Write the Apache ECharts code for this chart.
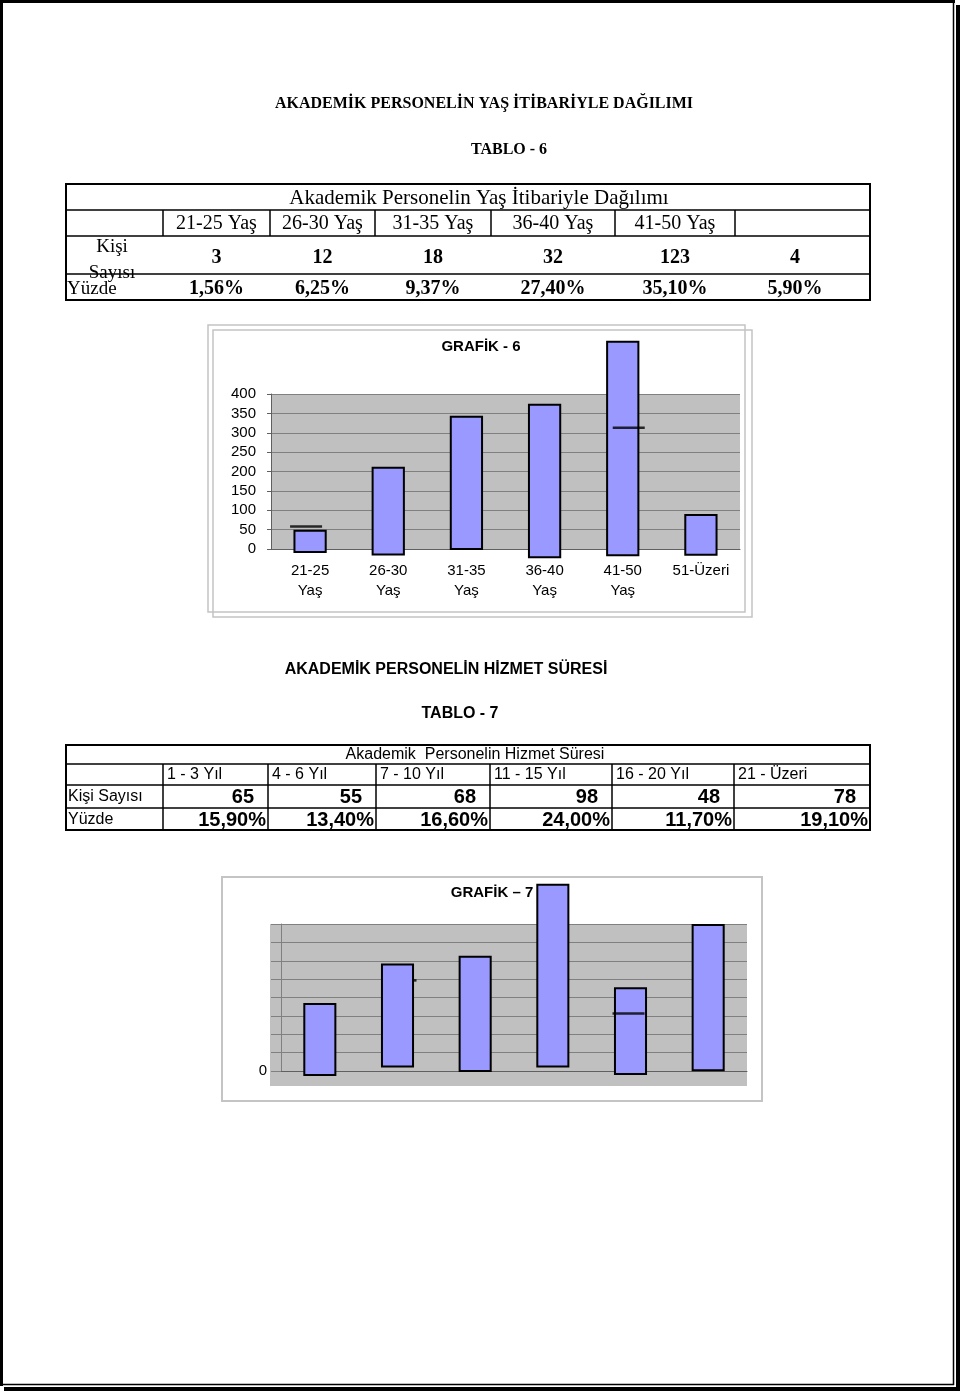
<!DOCTYPE html>
<html><head><meta charset="utf-8">
<script src="https://cdn.jsdelivr.net/npm/echarts@6/dist/echarts.min.js"></script>
<style>html,body{margin:0;padding:0;background:#fff}#c{width:960px;height:1391px}</style>
</head><body><div id="c"></div>
<script>
// ---------- Page texts ----------
const pageTitle6 = 'AKADEMİK PERSONELİN YAŞ İTİBARİYLE DAĞILIMI';
const tableLabel6 = 'TABLO - 6';
const pageTitle7 = 'AKADEMİK PERSONELİN HİZMET SÜRESİ';
const tableLabel7 = 'TABLO - 7';

// ---------- Table 6 ----------
const t6Title = 'Akademik Personelin Yaş İtibariyle Dağılımı';
const t6Headers = ['21-25 Yaş', '26-30 Yaş', '31-35 Yaş', '36-40 Yaş', '41-50 Yaş', ''];
const t6Counts = ['3', '12', '18', '32', '123', '4'];
const t6Percents = ['1,56%', '6,25%', '9,37%', '27,40%', '35,10%', '5,90%'];

// ---------- Chart 6 (GRAFİK - 6) ----------
const g6Title = 'GRAFİK - 6';
const g6Categories = ['21-25\nYaş', '26-30\nYaş', '31-35\nYaş', '36-40\nYaş', '41-50\nYaş', '51-Üzeri'];
const g6BarTop = [47, 210, 341, 372, 535, 88];
const g6BarBase = [-8, -14, 0, -21, -16, -15];
const g6MarkIndex = [0, 4];
const g6MarkValue = [58, 313];
const g6Ticks = [0, 50, 100, 150, 200, 250, 300, 350, 400];

// ---------- Table 7 ----------
const t7Title = 'Akademik  Personelin Hizmet Süresi';
const t7Headers = ['1 - 3 Yıl', '4 - 6 Yıl', '7 - 10 Yıl', '11 - 15 Yıl', '16 - 20 Yıl', '21 - Üzeri'];
const t7RowLabels = ['Kişi Sayısı', 'Yüzde'];
const t7Counts = ['65', '55', '68', '98', '48', '78'];
const t7Percents = ['15,90%', '13,40%', '16,60%', '24,00%', '11,70%', '19,10%'];

// ---------- Chart 7 (GRAFİK – 7) ----------
const g7Title = 'GRAFİK – 7';
const g7Categories = ['1 - 3 Yıl', '4 - 6 Yıl', '7 - 10 Yıl', '11 - 15 Yıl', '16 - 20 Yıl', '21 - Üzeri'];
const g7BarTop = [36.4, 58, 62.2, 101.3, 45.1, 79.5];
const g7BarBase = [-2.2, 2.4, 0, 2.4, -1.6, 0.4];
const g7MarkIndex = [4, 1];
const g7MarkValue = [31.3, 49.3];
const g7Ticks = [0, 10, 20, 30, 40, 50, 60, 70, 80];

// ---------- Rendering ----------
const SERIF = '"Liberation Serif", "Times New Roman", serif';
const SANS = '"Liberation Sans", Arial, sans-serif';
const chart = echarts.init(document.getElementById('c'), null, {renderer: 'canvas', width: 960, height: 1391});

const G = [];
function txt(s, x, y, font, align, valign, extra) {
  G.push(Object.assign({type: 'text', x: x, y: y, z: 50,
    style: {text: s, font: font, fill: '#000', textAlign: align || 'center', textVerticalAlign: valign || 'middle',
            align: align || 'center', verticalAlign: valign || 'middle'}}, extra || {}));
}
function line(x1, y1, x2, y2, w, c, z) {
  G.push({type: 'line', z: z == null ? 40 : z, shape: {x1, y1, x2, y2}, style: {stroke: c || '#000', lineWidth: w || 1}});
}
function rect(x, y, w, h, opt, z) {
  G.push({type: 'rect', z: z == null ? 40 : z, shape: {x, y, width: w, height: h}, style: opt});
}

// page frame
rect(0, 0, 3, 1386, {fill: '#000'});
rect(0, 0, 955, 3, {fill: '#000'});
line(953.5, 1, 953.5, 1385, 1.5);
line(1, 1384.5, 954, 1384.5, 1.5);
rect(956, 5, 4, 1386, {fill: '#000'});
rect(4, 1387, 956, 4, {fill: '#000'});

// headings
txt(pageTitle6, 484, 104, 'bold 16px ' + SERIF);
txt(tableLabel6, 509, 150, 'bold 16px ' + SERIF);
txt(pageTitle7, 446, 670, 'bold 16px ' + SANS);
txt(tableLabel7, 460, 714, 'bold 16px ' + SANS);

// table 6
(function () {
  const x0 = 66, x1 = 870, ys = [184, 210, 236, 274, 300], cols = [163, 270, 375, 491, 615, 735, 870];
  rect(x0, ys[0], x1 - x0, ys[4] - ys[0], {fill: 'none', stroke: '#000', lineWidth: 2});
  line(x0, ys[1], x1, ys[1], 1.5);
  line(x0, ys[2], x1, ys[2], 1.5);
  line(x0, ys[3], x1, ys[3], 1.5);
  cols.slice(0, 6).forEach(c => line(c, ys[1], c, ys[2], 1.5));
  txt(t6Title, 479, 198, '21px ' + SERIF);
  for (let i = 0; i < 6; i++) {
    const cx = i === 5 ? 795 : (cols[i] + cols[i + 1]) / 2;
    if (t6Headers[i]) txt(t6Headers[i], cx, 224, '20px ' + SERIF);
    txt(t6Counts[i], cx, 258, 'bold 20px ' + SERIF);
    txt(t6Percents[i], cx, 289, 'bold 20px ' + SERIF);
  }
  txt('Kişi', 112, 247, '19px ' + SERIF);
  txt('Sayısı', 112, 273, '19px ' + SERIF);
  txt('Yüzde', 67, 289, '19px ' + SERIF, 'left');
})();

// table 7
(function () {
  const x0 = 66, x1 = 870, ys = [745, 764, 785, 808, 830], cols = [163, 268, 376, 490, 612, 734, 870];
  rect(x0, ys[0], x1 - x0, ys[4] - ys[0], {fill: 'none', stroke: '#000', lineWidth: 2});
  for (let k = 1; k < 4; k++) line(x0, ys[k], x1, ys[k], 1.5);
  cols.slice(0, 6).forEach(c => line(c, ys[1], c, ys[4], 1.5));
  txt(t7Title, 475, 754.5, '16px ' + SANS);
  for (let i = 0; i < 6; i++) {
    txt(t7Headers[i], cols[i] + 4, 775, '16px ' + SANS, 'left');
    txt(t7Counts[i], cols[i + 1] - 14, 797, 'bold 20px ' + SANS, 'right');
    txt(t7Percents[i], cols[i + 1] - 2, 820, 'bold 20px ' + SANS, 'right');
  }
  txt(t7RowLabels[0], 68, 797, '16px ' + SANS, 'left');
  txt(t7RowLabels[1], 68, 820, '16px ' + SANS, 'left');
})();

// chart frames & titles
rect(208, 325, 537, 287, {fill: 'none', stroke: '#c4c4c4', lineWidth: 1.5}, 1);
rect(213, 330, 539, 287, {fill: 'none', stroke: '#c4c4c4', lineWidth: 1.5}, 1);
txt(g6Title, 481, 347, 'bold 15px ' + SANS);
rect(222, 877, 540, 224, {fill: 'none', stroke: '#c4c4c4', lineWidth: 2}, 1);
rect(270, 924, 477, 162, {fill: '#c0c0c0'}, -10);
txt(g7Title, 492, 893, 'bold 15px ' + SANS);

function barRender(params, api) {
  const x = api.value(0), lo = api.value(1), hi = api.value(2);
  const pHi = api.coord([x, hi]), pLo = api.coord([x, lo]);
  const w = api.size([1, 0])[0] * 0.4;
  return {type: 'rect', shape: {x: pHi[0] - w / 2, y: pHi[1], width: w, height: pLo[1] - pHi[1]},
          style: {fill: '#9999ff', stroke: '#000', lineWidth: 2}};
}

const axisGray = '#606060';
chart.setOption({
  animation: false,
  backgroundColor: '#fff',
  graphic: {elements: G},
  grid: [
    {left: 271, top: 394, width: 469, height: 155, show: true, backgroundColor: '#c0c0c0', borderWidth: 0},
    {left: 281, top: 924, width: 466, height: 147, show: false}
  ],
  xAxis: [
    {type: 'category', gridIndex: 0, data: g6Categories,
     axisLine: {lineStyle: {color: axisGray}}, axisTick: {length: 5, lineStyle: {color: axisGray}},
     axisLabel: {color: '#000', fontFamily: SANS, fontSize: 15, lineHeight: 20, margin: 12}},
    {type: 'category', gridIndex: 1, data: g7Categories,
     axisLine: {lineStyle: {color: axisGray}}, axisTick: {length: 5, lineStyle: {color: axisGray}},
     axisLabel: {show: false}}
  ],
  yAxis: [
    {type: 'value', gridIndex: 0, min: g6Ticks[0], max: g6Ticks[g6Ticks.length - 1], interval: g6Ticks[1] - g6Ticks[0],
     axisLine: {show: true, lineStyle: {color: axisGray}}, axisTick: {show: true, length: 4, lineStyle: {color: axisGray}},
     splitLine: {lineStyle: {color: '#808080'}},
     axisLabel: {color: '#000', fontFamily: SANS, fontSize: 15, margin: 15}},
    {type: 'value', gridIndex: 1, min: g7Ticks[0], max: g7Ticks[g7Ticks.length - 1], interval: g7Ticks[1] - g7Ticks[0],
     axisLine: {show: true, lineStyle: {color: '#808080'}}, axisTick: {show: true, length: 10, lineStyle: {color: '#808080'}},
     splitLine: {lineStyle: {color: '#808080'}},
     axisLabel: {color: '#000', fontFamily: SANS, fontSize: 15, margin: 14,
                 formatter: v => (v === 0 ? '0' : '')}}
  ],
  series: [
    {type: 'custom', xAxisIndex: 0, yAxisIndex: 0, clip: false, z: 5,
     data: g6Categories.map((c, i) => [i, g6BarBase[i], g6BarTop[i]]), renderItem: barRender},
    {type: 'scatter', xAxisIndex: 0, yAxisIndex: 0, symbol: 'rect', z: 6, clip: false,
     itemStyle: {color: '#000'},
     data: g6MarkIndex.map((ci, k) => ({value: [ci, g6MarkValue[k]], symbolSize: [32, 2.5], symbolOffset: [k === 0 ? -4 : 6, 0]}))},
    {type: 'custom', xAxisIndex: 1, yAxisIndex: 1, clip: false, z: 5,
     data: g7Categories.map((c, i) => [i, g7BarBase[i], g7BarTop[i]]), renderItem: barRender},
    {type: 'scatter', xAxisIndex: 1, yAxisIndex: 1, symbol: 'rect', z: 6, clip: false,
     itemStyle: {color: '#000'},
     data: g7MarkIndex.map((ci, k) => ({value: [ci, g7MarkValue[k]], symbolSize: k === 0 ? [32, 2.5] : [4, 2.5], symbolOffset: [k === 0 ? -2 : 17, 0]}))}
  ]
});
</script>
</body></html>
